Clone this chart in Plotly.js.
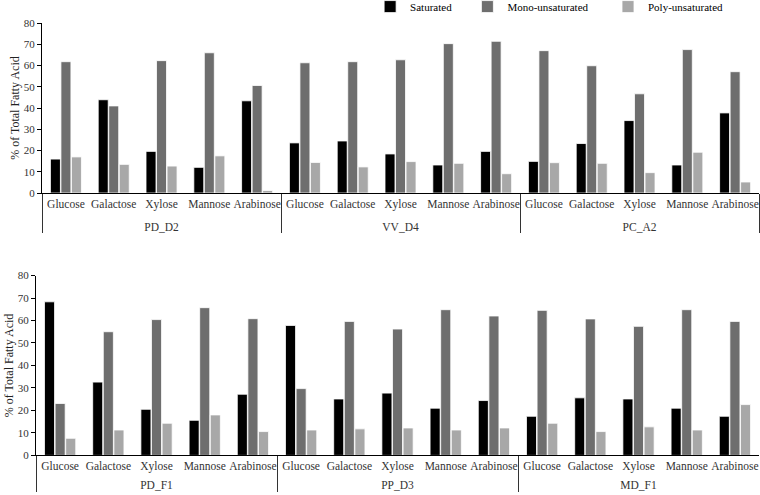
<!DOCTYPE html>
<html><head><meta charset="utf-8">
<script src="https://cdn.plot.ly/plotly-3.0.1.min.js"></script>
<style>html,body{margin:0;padding:0;background:#fff}#chart{width:760px;height:495px}</style>
</head><body><div id="chart"></div>
<script>
const sugars = ["Glucose","Galactose","Xylose","Mannose","Arabinose"];
const strainsTop = ["PD_D2","VV_D4","PC_A2"];
const strainsBottom = ["PD_F1","PP_D3","MD_F1"];
const seriesNames = ["Saturated","Mono-unsaturated","Poly-unsaturated"];
// top panel values, order: strain x sugar
const satTop  = [16.0,43.9,19.6,12.1,43.4, 23.6,24.5,18.4,13.2,19.6, 14.9,23.3,34.1,13.2,37.7];
const monoTop = [61.8,41.0,62.3,66.0,50.6, 61.3,61.8,62.7,70.3,71.4, 67.0,59.9,46.7,67.5,57.1];
const polyTop = [17.0,13.5,12.7,17.5,1.2, 14.4,12.3,14.8,14.0,9.1, 14.3,14.0,9.6,19.2,5.2];
// bottom panel values
const satBot  = [68.3,32.6,20.5,15.6,27.2, 57.8,25.1,27.7,21.0,24.4, 17.4,25.6,25.1,21.0,17.4];
const monoBot = [23.1,55.0,60.4,65.7,60.8, 29.7,59.6,56.2,64.8,62.0, 64.5,60.7,57.4,64.8,59.6];
const polyBot = [7.6,11.3,14.3,18.0,10.6, 11.3,11.8,12.2,11.3,12.2, 14.3,10.6,12.7,11.3,22.6];
const yTicks = [0,10,20,30,40,50,60,70,80];

const colors = ["#000000","#6e6e6e","#a8a8a8"];
// thin spaces at a larger size make the first label row taller so the group row sits lower
function cats(strains, pad){
  const a=[],b=[];
  const sp="<span style='font-size:"+pad+"px'>\u2009</span>";
  strains.forEach(s=>sugars.forEach(g=>{a.push(s);b.push(sp+g+sp);}));
  return [a,b];
}
const xt = cats(strainsTop,19), xb = cats(strainsBottom,16);
const topVals=[satTop,monoTop,polyTop], botVals=[satBot,monoBot,polyBot];
const legends=["legend","legend2","legend3"];
const traces=[];
topVals.forEach((v,i)=>traces.push({type:"bar",x:xt,y:v,name:seriesNames[i],xaxis:"x",yaxis:"y",
  marker:{color:colors[i],line:{color:"#ffffff",width:0.8}},legend:legends[i],showlegend:true,hoverinfo:"y"}));
botVals.forEach((v,i)=>traces.push({type:"bar",x:xb,y:v,name:seriesNames[i],xaxis:"x2",yaxis:"y2",
  marker:{color:colors[i],line:{color:"#ffffff",width:0.8}},showlegend:false,hoverinfo:"y"}));

const serif="Liberation Serif";
const xax = d=>({domain:d,type:"multicategory",showline:true,linecolor:"#000",linewidth:1,ticks:"",tickangle:0,
  automargin:false,
  showdividers:true,dividercolor:"#333",dividerwidth:1,tickfont:{family:serif,size:11.5,color:"#333"},showgrid:false,zeroline:false});
const yax = (d,anchor)=>({domain:d,anchor:anchor,range:[0,80],tickvals:yTicks,ticktext:yTicks.map(String),
  showline:true,linecolor:"#000",linewidth:1,ticks:"outside",ticklen:4,tickcolor:"#000",showgrid:false,zeroline:false,
  tickfont:{family:serif,size:11,color:"#333"},automargin:false,
  title:{text:"% of Total Fatty Acid",font:{family:serif,size:12,color:"#222"},standoff:1}});
const lg = x=>({x:x,xanchor:"left",y:1.016,yanchor:"top",orientation:"h",bgcolor:"rgba(0,0,0,0)",
  font:{family:serif,size:11,color:"#000"},itemwidth:30});
const layout={
  width:760,height:495,margin:{l:0,r:0,t:0,b:0,autoexpand:false},paper_bgcolor:"#fff",plot_bgcolor:"#fff",
  barmode:"group",bargap:0.34,bargroupgap:0.05,
  xaxis:Object.assign(xax([0.0553,0.9987]),{anchor:"y"}),
  yaxis:yax([0.610,0.9535],"x"),
  xaxis2:Object.assign(xax([0.0474,0.9987]),{anchor:"y2"}),
  yaxis2:yax([0.080,0.4434],"x2"),
  legend:lg(0.487),legend2:lg(0.615),legend3:lg(0.80),
  showlegend:true
};
Plotly.newPlot("chart",traces,layout,{displayModeBar:false,staticPlot:true});
</script></body></html>
